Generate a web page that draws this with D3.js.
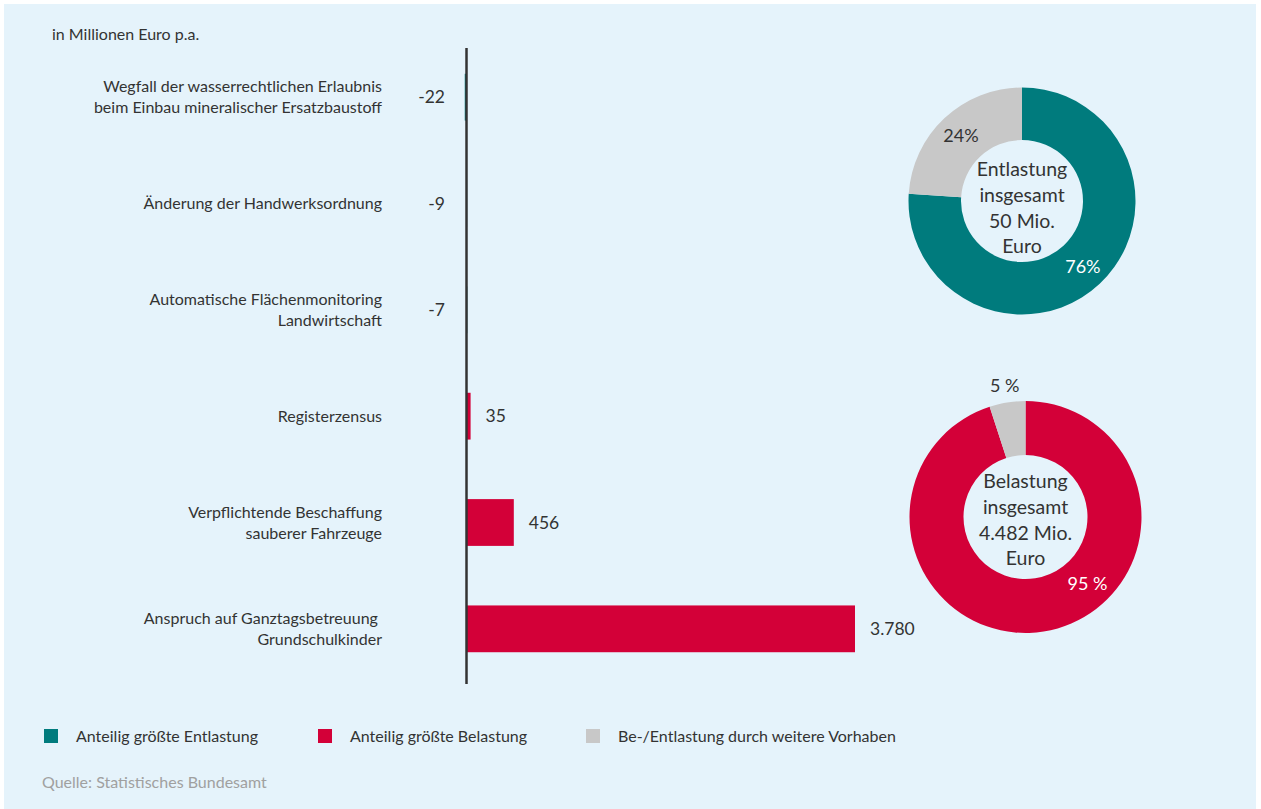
<!DOCTYPE html>
<html>
<head>
<meta charset="utf-8">
<script src="https://cdn.jsdelivr.net/npm/d3@7"></script>
<style>
  body { margin: 0; background: #fff; }
  text { font-family: Lato, "Noto Sans", sans-serif; fill: #333; }
</style>
</head>
<body>
<script>
// Bars: in Millionen Euro p.a.
const categories = [
  "Wegfall der wasserrechtlichen Erlaubnis\nbeim Einbau mineralischer Ersatzbaustoff",
  "Änderung der Handwerksordnung",
  "Automatische Flächenmonitoring\nLandwirtschaft",
  "Registerzensus",
  "Verpflichtende Beschaffung\nsauberer Fahrzeuge",
  "Anspruch auf Ganztagsbetreuung\u00a0\nGrundschulkinder"
];
const values = [-22, -9, -7, 35, 456, 3780];
const valueLabels = ["-22", "-9", "-7", "35", "456", "3.780"];

// Donuts: shares in percent (main slice, weitere Vorhaben)
const entlastungShares = [76, 24];
const entlastungLabels = ["76%", "24%"];
const entlastungText = ["Entlastung", "insgesamt", "50 Mio.", "Euro"];
const belastungShares = [95, 5];
const belastungLabels = ["95 %", "5 %"];
const belastungText = ["Belastung", "insgesamt", "4.482 Mio.", "Euro"];

const legendItems = ["Anteilig größte Entlastung", "Anteilig größte Belastung", "Be-/Entlastung durch weitere Vorhaben"];

const teal = "#007b7d", red = "#d30038", grey = "#c8c8c8";
const width = 1261, height = 809;

const svg = d3.select("body").append("svg")
  .attr("width", width)
  .attr("height", height);

svg.append("rect")
  .attr("x", 4).attr("y", 4)
  .attr("width", 1252).attr("height", 805)
  .attr("fill", "#e5f3fb");

svg.append("text")
  .attr("x", 52).attr("y", 34)
  .attr("dy", "0.35em")
  .attr("font-size", 16)
  .text("in Millionen Euro p.a.");

// scales
const x = d3.scaleLinear().domain([0, 3780]).range([467, 855]);
const y = d3.scaleBand()
  .domain(d3.range(categories.length))
  .range([44, 682])
  .paddingInner(0.56)
  .paddingOuter(0.28);

// bars
svg.append("g")
  .selectAll("rect")
  .data(values)
  .join("rect")
  .attr("x", d => x(Math.min(0, d)))
  .attr("y", (d, i) => y(i))
  .attr("width", d => Math.max(1, Math.abs(x(d) - x(0))))
  .attr("height", y.bandwidth())
  .attr("fill", d => d < 0 ? teal : red);

// zero axis
svg.append("line")
  .attr("x1", x(0) - 0.5).attr("x2", x(0) - 0.5)
  .attr("y1", 48).attr("y2", 684)
  .attr("stroke", "#333")
  .attr("stroke-width", 2.5);

// value labels
svg.append("g")
  .attr("font-size", 17.5)
  .selectAll("text")
  .data(values)
  .join("text")
  .attr("x", d => d < 0 ? 445 : x(d) + 15)
  .attr("y", (d, i) => y(i) + y.bandwidth() / 2)
  .attr("dy", "0.35em")
  .attr("text-anchor", d => d < 0 ? "end" : "start")
  .text((d, i) => valueLabels[i]);

// category labels
svg.append("g")
  .attr("font-size", 16)
  .selectAll("text")
  .data(categories)
  .join("text")
  .attr("text-anchor", "end")
  .attr("transform", (d, i) => `translate(382,${y(i) + y.bandwidth() / 2})`)
  .each(function (d) {
    const lines = d.split("\n");
    d3.select(this).selectAll("tspan")
      .data(lines)
      .join("tspan")
      .attr("x", 0)
      .attr("y", (l, j) => (j - (lines.length - 1) / 2) * 21)
      .attr("dy", "0.35em")
      .text(l => l);
  });

// donuts
const labelAngle = 137 * Math.PI / 180;
function donut(cx, cy, outer, inner, shares, labels, centerText, mainColor, outsideMinor, textShift) {
  const g = svg.append("g").attr("transform", `translate(${cx},${cy})`);
  const pie = d3.pie().sort(null).value(d => d);
  const arcs = pie(shares);
  const arc = d3.arc().innerRadius(inner).outerRadius(outer);
  g.selectAll("path")
    .data(arcs)
    .join("path")
    .attr("d", arc)
    .attr("fill", (d, i) => i === 0 ? mainColor : grey);

  const mid = (inner + outer) / 2 + 2;
  // main slice label
  g.append("text")
    .attr("x", Math.sin(labelAngle) * mid)
    .attr("y", -Math.cos(labelAngle) * mid)
    .attr("dy", "0.35em")
    .attr("text-anchor", "middle")
    .attr("font-size", 18)
    .style("fill", "#fff")
    .text(labels[0]);
  // minor slice label
  const a = (arcs[1].startAngle + arcs[1].endAngle) / 2;
  const r = outsideMinor ? outer + 17 : mid;
  g.append("text")
    .attr("x", Math.sin(a) * r)
    .attr("y", -Math.cos(a) * r)
    .attr("dy", "0.35em")
    .attr("text-anchor", "middle")
    .attr("font-size", 18)
    .text(labels[1]);

  g.append("text")
    .attr("text-anchor", "middle")
    .attr("font-size", 19.5)
    .selectAll("tspan")
    .data(centerText)
    .join("tspan")
    .attr("x", 0)
    .attr("y", (t, j) => textShift + (j - (centerText.length - 1) / 2) * 25.7)
    .attr("dy", "0.35em")
    .text(t => t);
}

donut(1022, 201, 113.5, 61, entlastungShares, entlastungLabels, entlastungText, teal, false, 7);
donut(1025.5, 517, 116, 62, belastungShares, belastungLabels, belastungText, red, true, 3);

// legend
const legendX = [44, 318, 586];
const legend = svg.append("g")
  .selectAll("g")
  .data(legendItems)
  .join("g")
  .attr("transform", (d, i) => `translate(${legendX[i]},729)`);
legend.append("rect")
  .attr("width", 14).attr("height", 14)
  .attr("fill", (d, i) => [teal, red, grey][i]);
legend.append("text")
  .attr("x", 32).attr("y", 7)
  .attr("dy", "0.35em")
  .attr("font-size", 16)
  .text(d => d);

svg.append("text")
  .attr("x", 42).attr("y", 782)
  .attr("dy", "0.35em")
  .attr("font-size", 16)
  .style("fill", "#a0a0a0")
  .text("Quelle: Statistisches Bundesamt");
</script>
</body>
</html>
